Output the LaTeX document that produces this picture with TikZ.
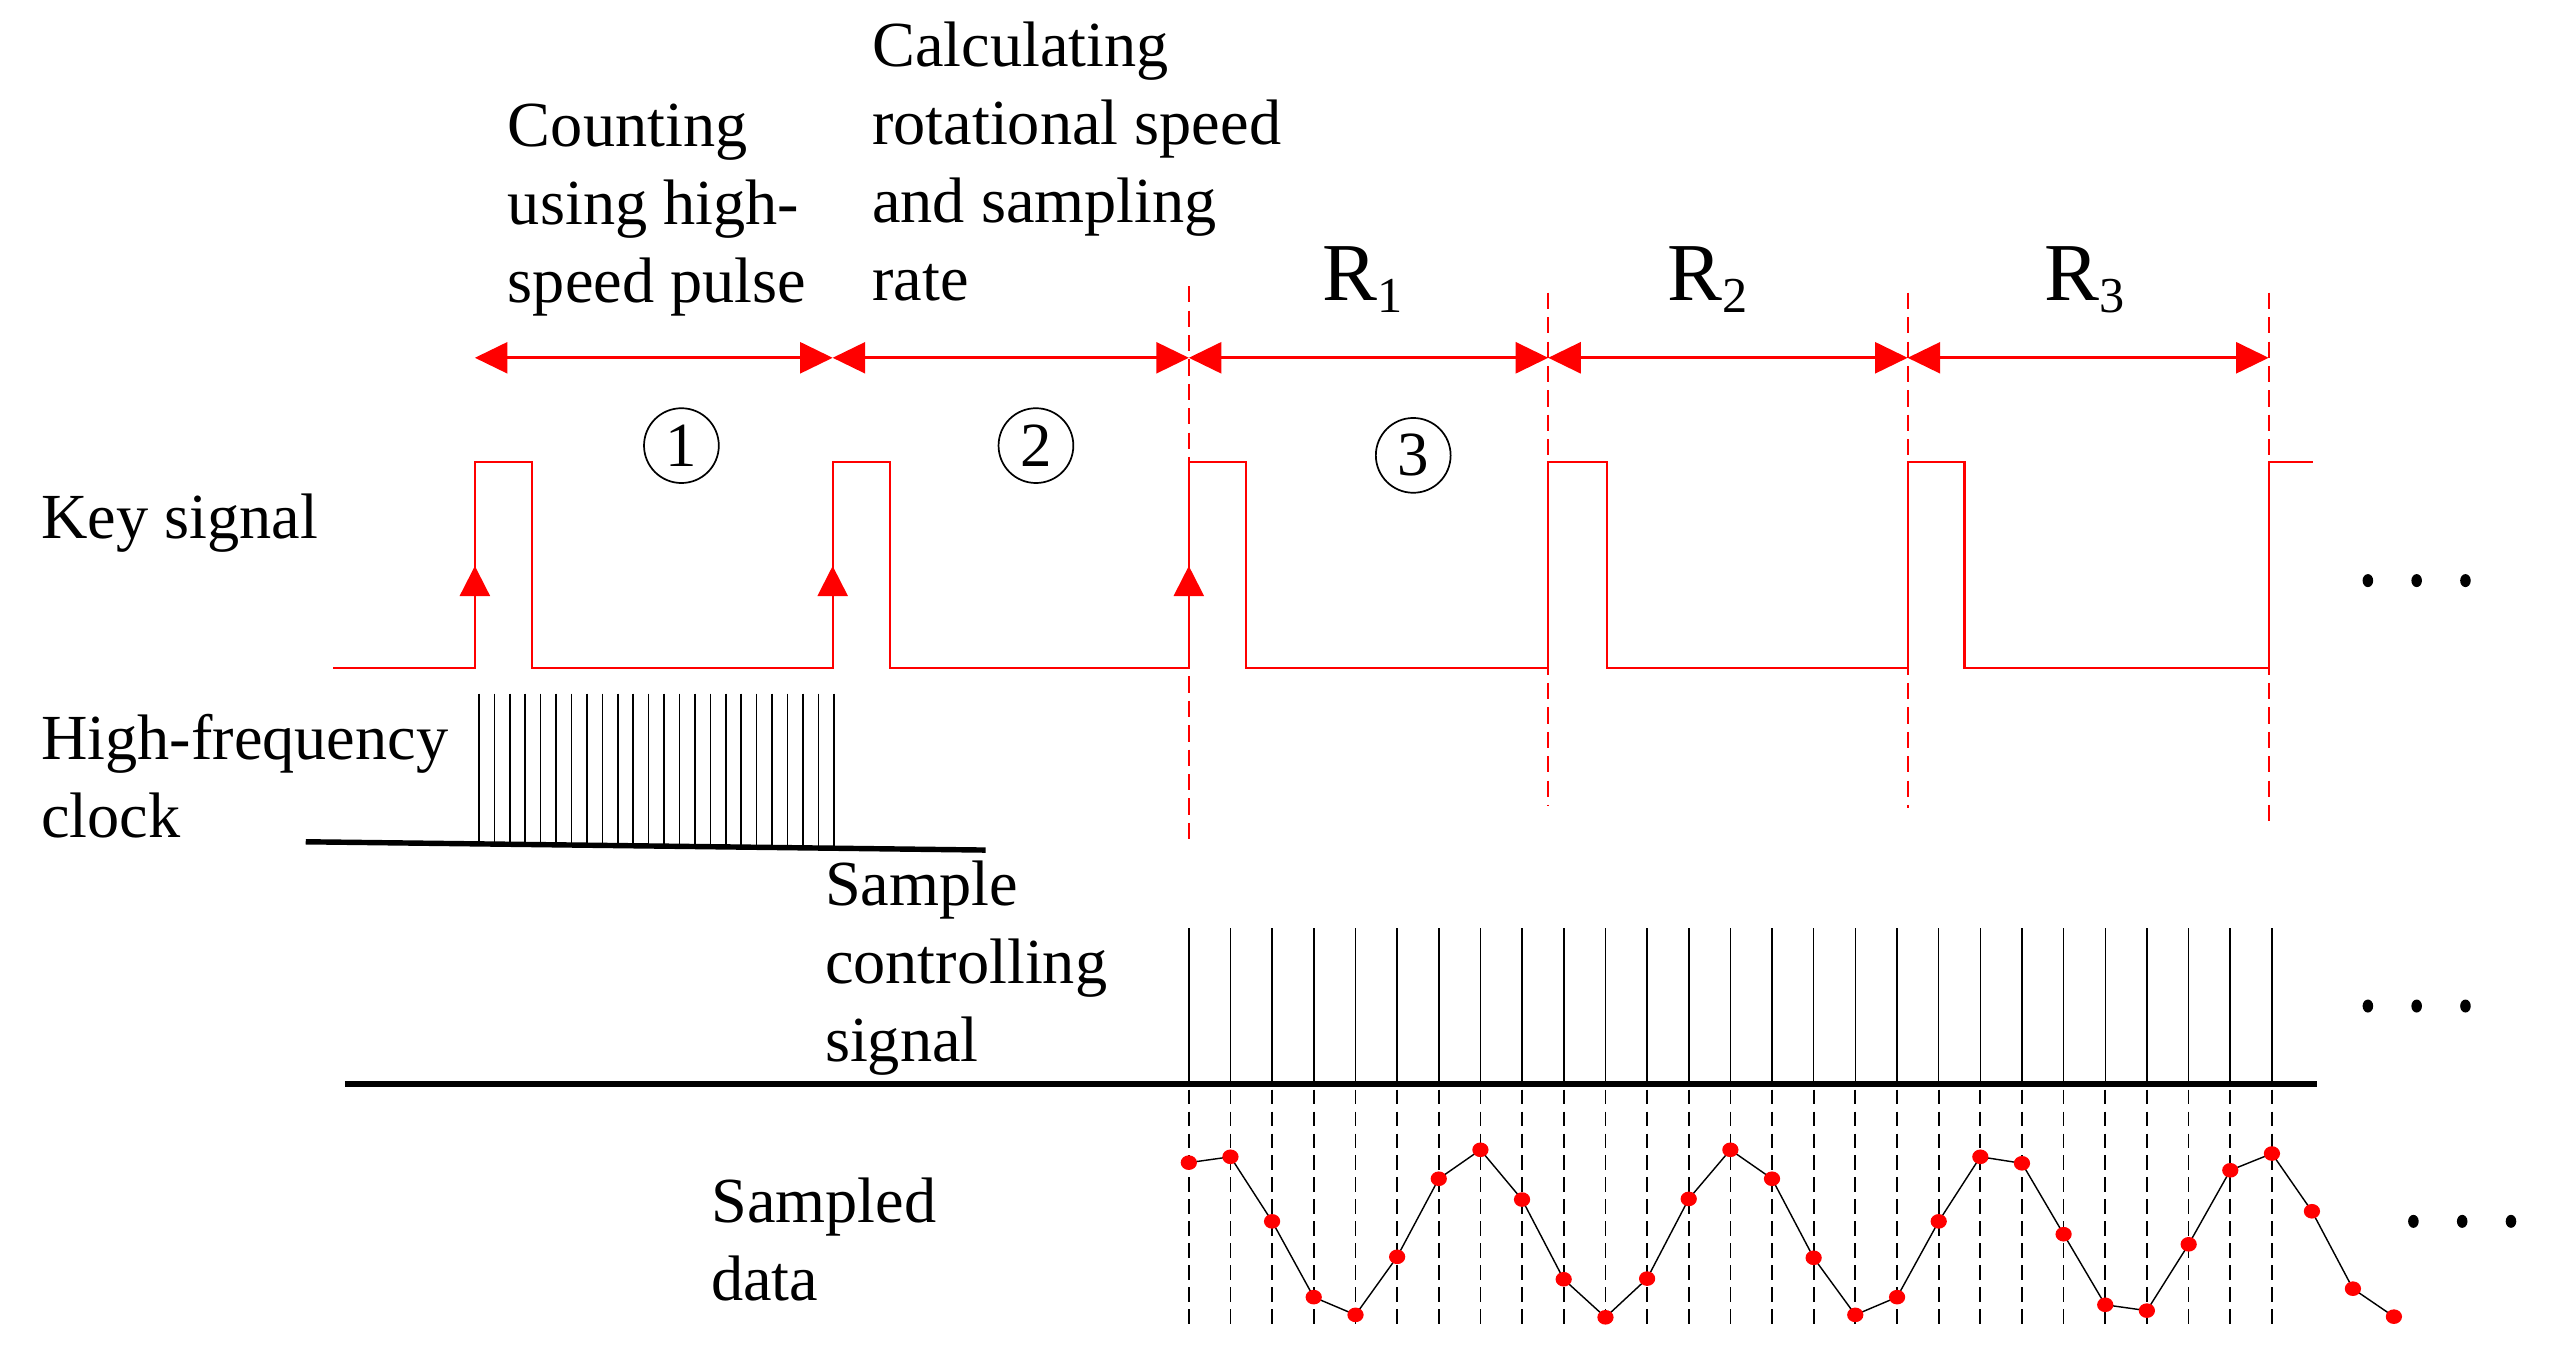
\documentclass[tikz,border=0pt]{standalone}
\usepackage{fontspec}
\setmainfont{Liberation Serif}
\usetikzlibrary{arrows.meta}
\begin{document}
\begin{tikzpicture}[x=0.02cm,y=-0.02cm,
  lbl/.style={anchor=base west, inner sep=0pt, font=\fontsize{22.5pt}{27.3pt}\selectfont},
  rlbl/.style={anchor=base west, inner sep=0pt, font=\fontsize{28.8pt}{30pt}\selectfont},
  circ/.style={circle, draw, line width=0.6pt, minimum size=0.92cm, inner sep=0pt, font=\fontsize{22pt}{22pt}\selectfont},
  keysig/.style={draw=red, line width=0.75pt},
  dimarrow/.style={draw=red, line width=1pt, {Triangle[length=0.4cm,width=0.38cm]}-{Triangle[length=0.4cm,width=0.38cm]}},
  uparrow/.style={draw=red, line width=0.75pt, -{Triangle[length=0.37cm,width=0.37cm]}},
  reddash/.style={draw=red, line width=0.6pt, dash pattern=on 0.2cm off 0.1cm},
  blackdash/.style={draw=black, line width=0.6pt, dash pattern=on 0.18cm off 0.09cm},
  tick/.style={draw=black, line width=0.55pt},
  axis/.style={draw=black, line width=2.3pt},
  datadot/.style={fill=red},
  ell/.style={fill=black}
]
\useasboundingbox (0,0) rectangle (1568,833);
\newcommand\subdig[1]{\raisebox{-0.14cm}{\fontsize{17.6pt}{18pt}\selectfont #1}}

% ---------- texts ----------
\node[lbl] (count) at (312,90) {\begin{tabular}[t]{@{}l@{}}Counting\\using high-\\speed pulse\end{tabular}};
\node[lbl] (calc) at (536,41) {\begin{tabular}[t]{@{}l@{}}Calculating\\rotational speed\\and sampling\\rate\end{tabular}};
\node[lbl] (key) at (25,331) {Key signal};
\node[lbl] (hf) at (25,467) {\begin{tabular}[t]{@{}l@{}}High-frequency\\clock\end{tabular}};
\node[lbl] (samp) at (507,557) {\begin{tabular}[t]{@{}l@{}}Sample\\controlling\\signal\end{tabular}};
\node[lbl] (data) at (437,752) {\begin{tabular}[t]{@{}l@{}}Sampled\\data\end{tabular}};

\node[rlbl] (r1) at (813,185) {R\subdig{1}};
\node[rlbl] (r2) at (1025,185) {R\subdig{2}};
\node[rlbl] (r3) at (1257,185) {R\subdig{3}};

\node[circ] (c1) at (419,274) {1};
\node[circ] (c2) at (637,274) {2};
\node[circ] (c3) at (869,280) {3};

% ---------- dimension arrows ----------
\coordinate (b0) at (292,220);
\coordinate (b1) at (512,220);
\coordinate (b2) at (731,220);
\coordinate (b3) at (952,220);
\coordinate (b4) at (1173,220);
\coordinate (b5) at (1395,220);
\draw[dimarrow] (b0) -- (b1);
\draw[dimarrow] (b1) -- (b2);
\draw[dimarrow] (b2) -- (b3);
\draw[dimarrow] (b3) -- (b4);
\draw[dimarrow] (b4) -- (b5);

% ---------- red dashed boundaries ----------
\draw[reddash] (731,176) -- (731,517);
\draw[reddash] (952,180) -- (952,495);
\draw[reddash] (1173,180) -- (1173,497);
\draw[reddash] (1395,180) -- (1395,505);

% ---------- key signal ----------
\draw[keysig] (205,411) -- (292,411) -- (292,284) -- (327,284) -- (327,411)
  -- (512,411) -- (512,284) -- (547,284) -- (547,411)
  -- (731,411) -- (731,284) -- (766,284) -- (766,411)
  -- (952,411) -- (952,284) -- (988,284) -- (988,411)
  -- (1173,411) -- (1173,284) -- (1208,284) -- (1208,411)
  -- (1395,411) -- (1395,284) -- (1422,284);
\draw[uparrow] (292,380) -- (292,348);
\draw[uparrow] (512,380) -- (512,348);
\draw[uparrow] (731,380) -- (731,348);

% ---------- high-frequency clock ----------
\draw[axis, line width=1.9pt] (188,517.6) -- (606,522.7);
\foreach \i in {0,...,23}{
  \pgfmathsetmacro\xx{294.5+\i*218.2/23}
  \pgfmathsetmacro\yy{517.6+(\xx-188)*5.1/418}
  \draw[tick] (\xx,426.5) -- (\xx,\yy);
}

% ---------- sample controlling signal ----------
\draw[axis] (212,666.5) -- (1425,666.5);
\foreach \i in {0,...,26}{
  \pgfmathsetmacro\xx{731+\i*25.615}
  \draw[tick] (\xx,570.8) -- (\xx,666);
  \draw[blackdash] (\xx,670) -- (\xx,815);
}

% ---------- sampled data ----------
\def\datapts{(731,714.9) (756.6,711.3) (782.2,751.0) (807.8,797.6) (833.5,808.5) (859.1,772.8) (884.7,724.8) (910.3,707) (935.9,737.6) (961.5,786.6) (987.2,810) (1012.8,786.2) (1038.4,737.2) (1064,707) (1089.6,724.8) (1115.2,773.4) (1140.8,808.5) (1166.5,797.6) (1192.1,751) (1217.7,711.3) (1243.3,715.3) (1268.9,758.9) (1294.5,802.3) (1320.1,805.9) (1345.8,765.1) (1371.4,719.6) (1397,709.3) (1421.6,744.8) (1446.8,792.4) (1472,809.6)}
\draw[line width=0.5pt] plot coordinates {\datapts};
\foreach \p in {(731,714.9), (756.6,711.3), (782.2,751.0), (807.8,797.6), (833.5,808.5), (859.1,772.8), (884.7,724.8), (910.3,707), (935.9,737.6), (961.5,786.6), (987.2,810), (1012.8,786.2), (1038.4,737.2), (1064,707), (1089.6,724.8), (1115.2,773.4), (1140.8,808.5), (1166.5,797.6), (1192.1,751), (1217.7,711.3), (1243.3,715.3), (1268.9,758.9), (1294.5,802.3), (1320.1,805.9), (1345.8,765.1), (1371.4,719.6), (1397,709.3), (1421.6,744.8), (1446.8,792.4), (1472,809.6)}{
  \fill[datadot] \p ellipse[x radius=0.1cm, y radius=0.09cm];
}

% ---------- ellipses (...) ----------
\foreach \x in {1456,1486,1516}{
  \fill[ell] (\x,357) ellipse[x radius=0.065cm, y radius=0.08cm];
  \fill[ell] (\x,618.6) ellipse[x radius=0.065cm, y radius=0.08cm];
}
\foreach \x in {1484,1514,1544}{
  \fill[ell] (\x,751) ellipse[x radius=0.065cm, y radius=0.08cm];
}
\end{tikzpicture}
\end{document}
